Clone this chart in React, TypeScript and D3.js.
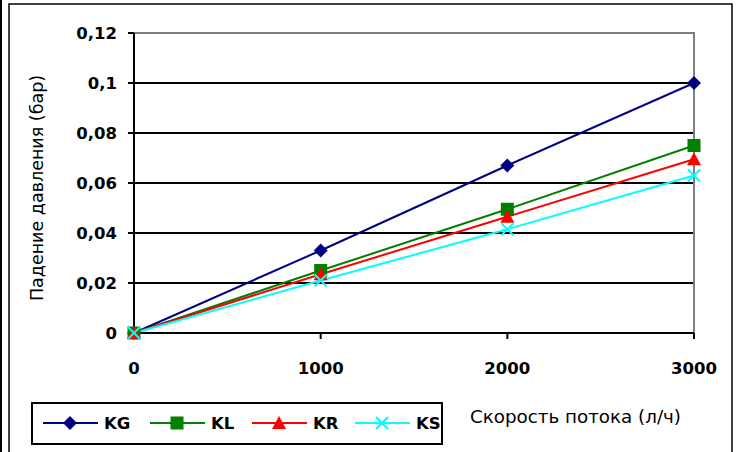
import * as d3 from 'd3'

const flows = [0, 1000, 2000, 3000]
const kg = [0, 0.033, 0.067, 0.1]
const kl = [0, 0.025, 0.0495, 0.075]
const kr = [0, 0.0235, 0.0465, 0.0695]
const ks = [0, 0.021, 0.0415, 0.063]
const yTicks = [0, 0.02, 0.04, 0.06, 0.08, 0.1, 0.12]
const seriesNames = ['KG', 'KL', 'KR', 'KS']
const seriesColors = ['#000080', '#008000', '#FF0000', '#00FFFF']
const seriesShapes = ['diamond', 'square', 'triangle', 'cross']

const W = 739
const H = 452
const plot = { left: 134, top: 33, right: 694, bottom: 333 }
const font = '"DejaVu Sans", Verdana, sans-serif'

function Marker({ shape, x, y, color }) {
  if (shape === 'diamond') {
    const r = 7
    return <path d={`M${x},${y - r}L${x + r},${y}L${x},${y + r}L${x - r},${y}Z`} fill={color} />
  }
  if (shape === 'square') {
    return <rect x={x - 6.5} y={y - 6.5} width={13} height={13} fill={color} />
  }
  if (shape === 'triangle') {
    return <path d={`M${x},${y - 7}L${x + 7},${y + 6}L${x - 7},${y + 6}Z`} fill={color} />
  }
  const r = 6
  return (
    <path
      d={`M${x - r},${y - r}L${x + r},${y + r}M${x - r},${y + r}L${x + r},${y - r}`}
      stroke={color}
      strokeWidth={2}
    />
  )
}

export default function App() {
  const x = d3.scaleLinear().domain([0, 3000]).range([plot.left, plot.right])
  const y = d3.scaleLinear().domain([0, 0.12]).range([plot.bottom, plot.top])
  const fmt = (v: number) => String(+v.toFixed(2)).replace('.', ',')
  const series = [kg, kl, kr, ks]
  const line = d3
    .line<number>()
    .x((d, i) => x(flows[i]))
    .y(d => y(d))

  const legendX = [43, 150, 252, 355]
  const legendY = 423

  return (
    <svg
      width={W}
      height={H}
      style={{ position: 'absolute', left: 0, top: 0, background: '#fff' }}
      fontFamily={font}
    >
      <rect x={0} y={0} width={2} height={H} fill="#000" />
      <rect x={9} y={4} width={723} height={H + 10} fill="none" stroke="#000" strokeWidth={1.5} />

      {/* grid */}
      {yTicks.slice(1, -1).map(t => (
        <line key={t} x1={plot.left} x2={plot.right} y1={y(t)} y2={y(t)} stroke="#000" strokeWidth={2} />
      ))}
      <line x1={plot.left} x2={plot.right + 1} y1={plot.top} y2={plot.top} stroke="#808080" strokeWidth={2} />
      <line x1={plot.right} x2={plot.right} y1={plot.top} y2={plot.bottom} stroke="#808080" strokeWidth={2} />

      {/* axes */}
      <line x1={plot.left} x2={plot.left} y1={plot.top} y2={plot.bottom} stroke="#000" strokeWidth={2} />
      <line x1={plot.left} x2={plot.right} y1={plot.bottom} y2={plot.bottom} stroke="#000" strokeWidth={2} />
      {yTicks.map(t => (
        <g key={t}>
          <line x1={plot.left - 6} x2={plot.left} y1={y(t)} y2={y(t)} stroke="#000" strokeWidth={2} />
          <text
            x={117}
            y={y(t)}
            dy="0.35em"
            textAnchor="end"
            fontSize={16.5}
            fontWeight="bold"
          >
            {fmt(t)}
          </text>
        </g>
      ))}
      {flows.map(f => (
        <g key={f}>
          <line x1={x(f)} x2={x(f)} y1={plot.bottom} y2={plot.bottom + 6} stroke="#000" strokeWidth={2} />
          <text x={x(f)} y={368} dy="0.35em" textAnchor="middle" fontSize={16.5} fontWeight="bold">
            {f}
          </text>
        </g>
      ))}

      {/* series */}
      {series.map((s, i) => (
        <path key={seriesNames[i]} d={line(s) || ''} fill="none" stroke={seriesColors[i]} strokeWidth={2} />
      ))}
      {series.map((s, i) =>
        s.map((v, j) => (
          <Marker key={seriesNames[i] + j} shape={seriesShapes[i]} x={x(flows[j])} y={y(v)} color={seriesColors[i]} />
        ))
      )}

      {/* titles */}
      <text
        transform={`translate(37, ${(plot.top + plot.bottom) / 2 + 5}) rotate(-90)`}
        textAnchor="middle"
        dy="0.35em"
        fontSize={17.5}
      >
        Падение давления (бар)
      </text>
      <text x={470} y={417} dy="0.35em" fontSize={18.3}>
        Скорость потока (л/ч)
      </text>

      {/* legend */}
      <rect x={32} y={403} width={410} height={41} fill="#fff" stroke="#000" strokeWidth={2} />
      {seriesNames.map((n, i) => (
        <g key={n}>
          <line
            x1={legendX[i]}
            x2={legendX[i] + 55}
            y1={legendY}
            y2={legendY}
            stroke={seriesColors[i]}
            strokeWidth={2}
          />
          <Marker shape={seriesShapes[i]} x={legendX[i] + 27} y={legendY} color={seriesColors[i]} />
          <text x={legendX[i] + 61} y={legendY} dy="0.35em" fontSize={16.5} fontWeight="bold">
            {n}
          </text>
        </g>
      ))}
    </svg>
  )
}
